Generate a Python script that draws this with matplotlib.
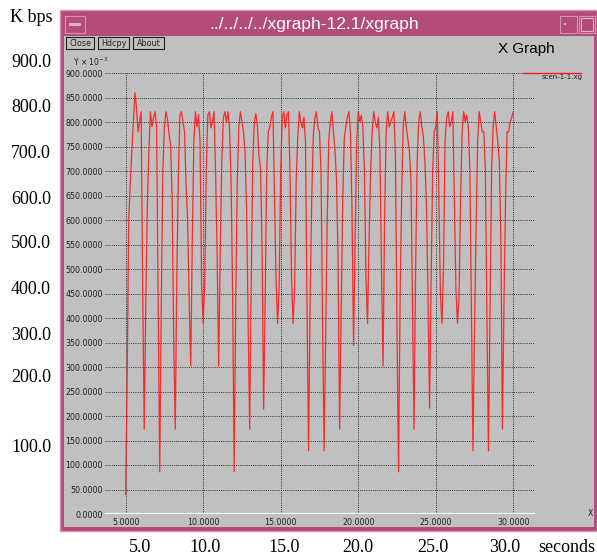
import matplotlib.pyplot as plt
import numpy as np
from matplotlib.patches import Rectangle
from matplotlib.lines import Line2D

W, H = 597, 559

# throughput samples, one every 0.1 s starting at 5.0 s (values in K bps)
t_start = 5.0
t_step = 0.1
kbps = [
    40, 280, 600, 675, 740, 800, 860, 830, 780, 800, 821, 460, 173,
    430, 627, 740, 821, 790, 810, 821, 788, 420, 86,
    433, 700, 790, 821, 805, 775, 753, 645, 360, 173,
    480, 690, 814, 821, 800, 780, 670, 600, 430, 302,
    560, 760, 821, 790, 815, 760, 470, 389,
    470, 700, 814, 821, 788, 800, 821, 700, 530, 302,
    530, 720, 808, 821, 800, 821, 788, 680, 450, 86,
    430, 680, 790, 821, 800, 780, 740, 620, 400, 173,
    474, 720, 800, 817, 790, 730, 707, 540, 214,
    440, 700, 780, 790, 810, 821, 650, 480, 389,
    461, 700, 808, 821, 788, 815, 821, 700, 480, 389,
    460, 680, 770, 821, 800, 788, 810, 760, 420, 129,
    440, 640, 770, 808, 821, 790, 780, 700, 390, 129,
    372, 600, 762, 800, 821, 780, 745, 680, 520, 173,
    400, 640, 767, 790, 810, 821, 780, 620, 344,
    560, 760, 821, 800, 814, 790, 700, 480, 389,
    560, 700, 780, 821, 800, 788, 810, 740, 500, 302,
    600, 780, 821, 790, 800, 810, 821, 730, 380, 86,
    440, 650, 790, 821, 790, 765, 740, 680, 420, 173,
    500, 720, 800, 821, 790, 770, 720, 630, 450, 216,
    470, 700, 780, 790, 821, 650, 450, 389,
    500, 762, 808, 821, 790, 800, 821, 640, 460, 389,
    440, 640, 780, 821, 800, 814, 790, 700, 420, 129,
    380, 580, 760, 821, 800, 780, 780, 700, 400, 129,
    420, 700, 790, 821, 790, 760, 720, 560, 173,
    430, 640, 780, 780, 800, 810, 821,
]
t = t_start + t_step * np.arange(len(kbps))

x_ticks = [5, 10, 15, 20, 25, 30]
y_ticks = np.arange(0, 901, 50)

outer_y_labels = ['900.0', '800.0', '700.0', '600.0', '500.0',
                  '400.0', '300.0', '200.0', '100.0']
outer_x_labels = ['5.0', '10.0', '15.0', '20.0', '25.0', '30.0']

window_title = '../../../../xgraph-12.1/xgraph'
buttons = ['Close', 'Hdcpy', 'About']
legend_name = 'scen-1-1.xg'

pink = '#b34c79'
gray = '#c0c0c0'

fig = plt.figure(figsize=(W / 100, H / 100), dpi=100)
fig.patch.set_facecolor('white')


def box(x0, y0, x1, y1, **kw):
    kw.setdefault('zorder', -5)
    fig.add_artist(Rectangle((x0 / W, 1 - y1 / H), (x1 - x0) / W, (y1 - y0) / H,
                             transform=fig.transFigure, **kw))


def txt(x, y, s, **kw):
    fig.text(x / W, 1 - y / H, s, **kw)


# window frame
box(60, 10, 597, 531, facecolor=pink, edgecolor='#d890b0', lw=1)
box(64, 36, 594, 527, facecolor=gray, edgecolor='none')
box(65, 16, 85, 33, facecolor=pink, edgecolor='#d890b0', lw=0.8)
box(69, 23.5, 81, 25.5, facecolor='#e0b0c8', edgecolor='none', zorder=-4)
box(560, 16, 577, 33, facecolor=pink, edgecolor='#d890b0', lw=0.8)
box(564, 23, 566, 25, facecolor='#e0b0c8', edgecolor='none', zorder=-4)
box(579, 16, 595, 33, facecolor=pink, edgecolor='#d890b0', lw=0.8)
box(581, 18, 593, 31, facecolor=pink, edgecolor='#e0b0c8', lw=0.8, zorder=-4)
txt(314, 25, window_title, color='white', fontsize=12.5, ha='center', va='center',
    family='Liberation Sans')

bx = [(66, 94), (98, 129), (133, 164)]
for (x0, x1), name in zip(bx, buttons):
    box(x0, 37, x1, 49, facecolor=gray, edgecolor='#202020', lw=0.8, zorder=-4)
    txt((x0 + x1) / 2, 43.5, name, fontsize=5.8, ha='center', va='center',
        color='#202020')

txt(526, 49, 'X Graph', fontsize=11, ha='center', va='center',
    family='Liberation Sans', color='black')
txt(73, 62, r'Y $\times$ 10$^{-3}$', fontsize=5.5, ha='left', va='center',
    color='#202020')

# plot area
ax = fig.add_axes([105 / W, 1 - 514 / H, 430 / W, 441 / H])
ax.patch.set_alpha(0)
ax.plot(t, kbps, color='#ff1a1a', lw=0.9, alpha=0.9)
ax.set_xlim(3.67, 31.4)
ax.set_ylim(0, 900)
ax.set_xticks(x_ticks)
ax.set_xticklabels(['%.4f' % v for v in x_ticks])
ax.set_yticks(y_ticks)
ax.set_yticklabels(['%.4f' % v for v in y_ticks])
ax.tick_params(length=0, labelsize=5.7, pad=1.5, colors='#202020')
ax.tick_params(axis='x', pad=3)
ax.grid(True, ls=(0, (1, 1.2)), color='#303030', lw=0.7)
ax.axhline(0, color='white', lw=1.6)
for s in ax.spines.values():
    s.set_visible(False)

# legend entry
fig.add_artist(Line2D([523 / W, 581 / W], [1 - 72.5 / H, 1 - 72.5 / H],
                      color='#ff1a1a', lw=1, transform=fig.transFigure))
txt(562, 77, legend_name, fontsize=5, ha='center', va='center', color='#202020')
txt(590, 513, 'X', fontsize=5.5, ha='center', va='center', color='#202020')

# labels outside the window
serif = 'Liberation Serif'
txt(31, 18, 'K bps', fontsize=13, ha='center', va='center', family=serif)
outer_y_rows = [62, 108, 153, 199, 244, 290, 335, 378, 448]
for lab, yy in zip(outer_y_labels, outer_y_rows):
    txt(31, yy, lab, fontsize=13, ha='center', va='center', family=serif)
outer_x_cols = [140, 205, 284, 358, 433, 505]
for lab, xx in zip(outer_x_labels, outer_x_cols):
    txt(xx, 548, lab, fontsize=13, ha='center', va='center', family=serif)
txt(567, 548, 'seconds', fontsize=13, ha='center', va='center', family=serif)

fig.savefig('out.png', dpi=100)
